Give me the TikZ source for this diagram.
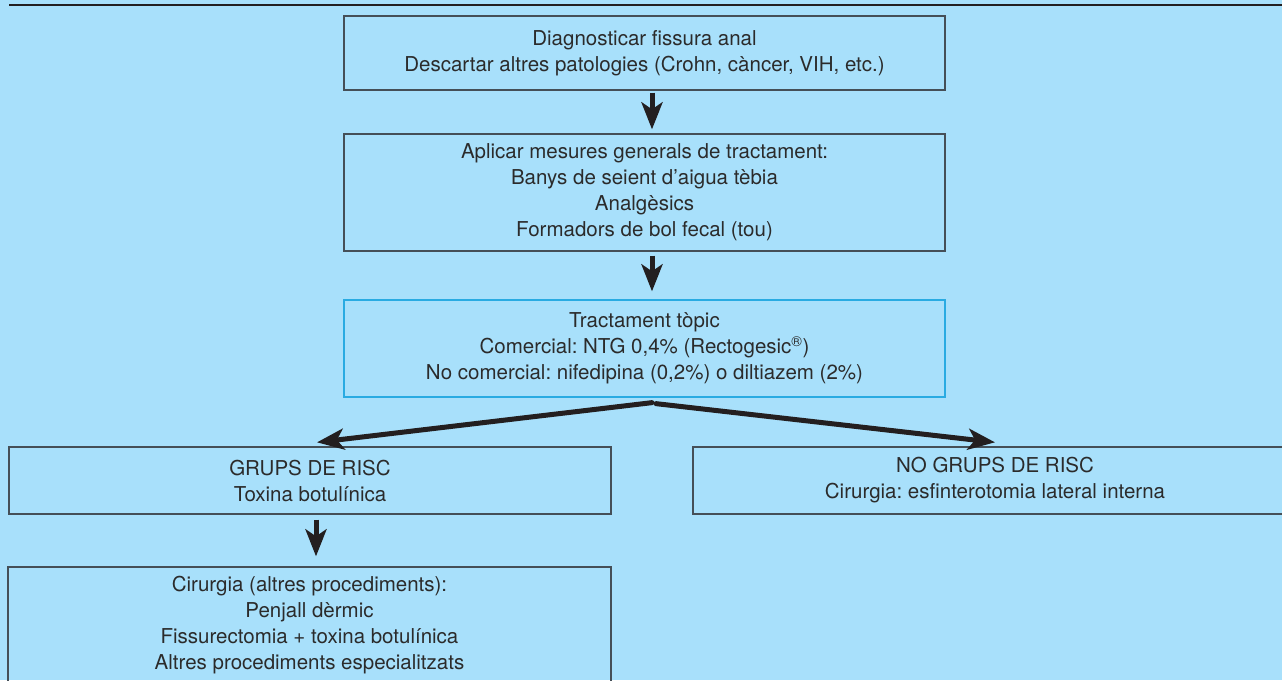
\documentclass[tikz,border=0pt]{standalone}
\usepackage{fontspec}
\setmainfont{TeX Gyre Heros}
\usetikzlibrary{arrows.meta}
\frenchspacing

\definecolor{bgblue}{HTML}{A8E0FB}
\definecolor{boxline}{HTML}{454F57}
\definecolor{topicline}{HTML}{29ABE2}
\definecolor{inkblack}{HTML}{231F20}
\definecolor{txtgray}{HTML}{2B2B2B}

\begin{document}
\begin{tikzpicture}[
  x=1pt, y=1pt,
  font=\fontsize{20.5}{26}\selectfont,
  box/.style={draw=boxline, line width=1.3pt, rectangle, align=center,
              text=txtgray, inner sep=0pt},
  topicbox/.style={box, draw=topicline},
  arr/.style={-{Stealth[length=27pt,width=21pt,inset=7pt]}, line width=5pt,
              inkblack},
]
  % --- Background and top rule ---
  \fill[bgblue] (0,0) rectangle (1282,680);
  \useasboundingbox (0,0) rectangle (1282,680);
  \draw[inkblack, line width=2.5pt] (9,675) -- (1282,675);

  % --- Main column ---
  \node[box, minimum width=601, minimum height=74] at (644.5,627) (diag)
    {Diagnosticar fissura anal\\Descartar altres patologies (Crohn, càncer, VIH, etc.)};
  \node[box, minimum width=601, minimum height=117] at (644.5,487.5) (mesures)
    {Aplicar mesures generals de tractament:\\Banys de seient d’aigua tèbia\\Analgèsics\\Formadors de bol fecal (tou)};
  \node[topicbox, minimum width=601, minimum height=97] at (644.5,331.5) (topic)
    {Tractament tòpic\\Comercial: NTG 0,4\% (Rectogesic\textsuperscript{®})\\No comercial: nifedipina (0,2\%) o diltiazem (2\%)};

  % --- Branches ---
  \node[box, minimum width=602, minimum height=67] at (310,199.5) (risc)
    {GRUPS DE RISC\\Toxina botulínica};
  \node[box, minimum width=604, minimum height=67] at (995,199.5) (norisc)
    {NO GRUPS DE RISC\\Cirurgia: esfinterotomia lateral interna};
  \node[box, minimum width=603, minimum height=117] at (309.5,54.5) (cirurgia)
    {Cirurgia (altres procediments):\\Penjall dèrmic\\Fissurectomia + toxina botulínica\\Altres procediments especialitzats};

  % --- Arrows ---
  \draw[arr, shorten <=2pt, shorten >=4pt]
    ([xshift=7.5pt]diag.south) -- ([xshift=7.5pt]mesures.north);
  \draw[arr, shorten <=4pt, shorten >=8pt]
    ([xshift=7.5pt]mesures.south) -- ([xshift=7.5pt]topic.north);
  \draw[arr, line cap=round]
    ([xshift=7.5pt,yshift=-5pt]topic.south) -- ([xshift=7pt,yshift=4pt]risc.north);
  \draw[arr, line cap=round]
    ([xshift=11.5pt,yshift=-6pt]topic.south) -- ([yshift=4pt]norisc.north);
  \draw[arr, shorten <=5pt, shorten >=10pt]
    ([xshift=6pt]risc.south) -- ([xshift=6.5pt]cirurgia.north);

\end{tikzpicture}
\end{document}
